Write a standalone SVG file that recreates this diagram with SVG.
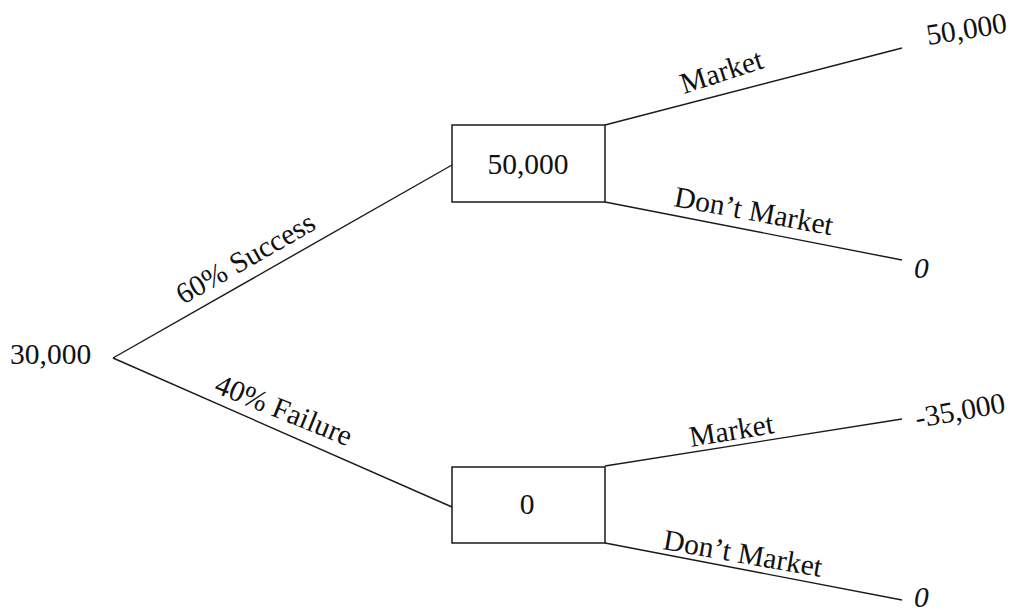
<svg xmlns="http://www.w3.org/2000/svg" width="1012" height="614" viewBox="0 0 1012 614">
  <style>
    .edge { stroke: #1a1a1a; stroke-width: 1.4; fill: none; }
    .box { fill: #ffffff; stroke: #1a1a1a; stroke-width: 1.5; }
    text { font-family: "Liberation Serif", "Times New Roman", serif; font-size: 29.5px; fill: #111111; }
    .it { font-style: italic; }
    .mid { text-anchor: middle; }
  </style>
  <rect width="1012" height="614" fill="#ffffff"/>

  <!-- branches -->
  <g id="connectors">
    <line class="edge" x1="113" y1="358" x2="452" y2="165"/>
    <line class="edge" x1="113" y1="358" x2="452" y2="507"/>
    <line class="edge" x1="605" y1="125" x2="902" y2="48"/>
    <line class="edge" x1="605" y1="202" x2="902" y2="260"/>
    <line class="edge" x1="605" y1="466" x2="902" y2="419"/>
    <line class="edge" x1="605" y1="543" x2="902" y2="600"/>
  </g>

  <!-- branch labels -->
  <g id="branch-labels">
    <text transform="translate(183,305) rotate(-29.7)">60% Success</text>
    <text transform="translate(213,392) rotate(22)">40% Failure</text>
    <text transform="translate(684,94) rotate(-18)">Market</text>
    <text transform="translate(673,206) rotate(10.5)">Don’t Market</text>
    <text transform="translate(691,447) rotate(-9.5)">Market</text>
    <text transform="translate(662,549) rotate(10)">Don’t Market</text>
  </g>

  <!-- root value -->
  <g id="root">
    <text x="10" y="364">30,000</text>
  </g>

  <!-- decision nodes -->
  <g id="node-success">
    <rect class="box" x="452" y="125" width="153" height="77"/>
    <text class="mid" x="528" y="174">50,000</text>
  </g>
  <g id="node-failure">
    <rect class="box" x="452" y="467" width="153" height="76"/>
    <text class="mid" x="527" y="514">0</text>
  </g>

  <!-- payoffs -->
  <g id="payoff-success-market">
    <text transform="translate(928,45) rotate(-9)">50,000</text>
  </g>
  <g id="payoff-success-dont">
    <text class="it" x="914" y="278">0</text>
  </g>
  <g id="payoff-failure-market">
    <text transform="translate(917,428) rotate(-10)">-35,000</text>
  </g>
  <g id="payoff-failure-dont">
    <text class="it" x="914" y="607">0</text>
  </g>
</svg>
